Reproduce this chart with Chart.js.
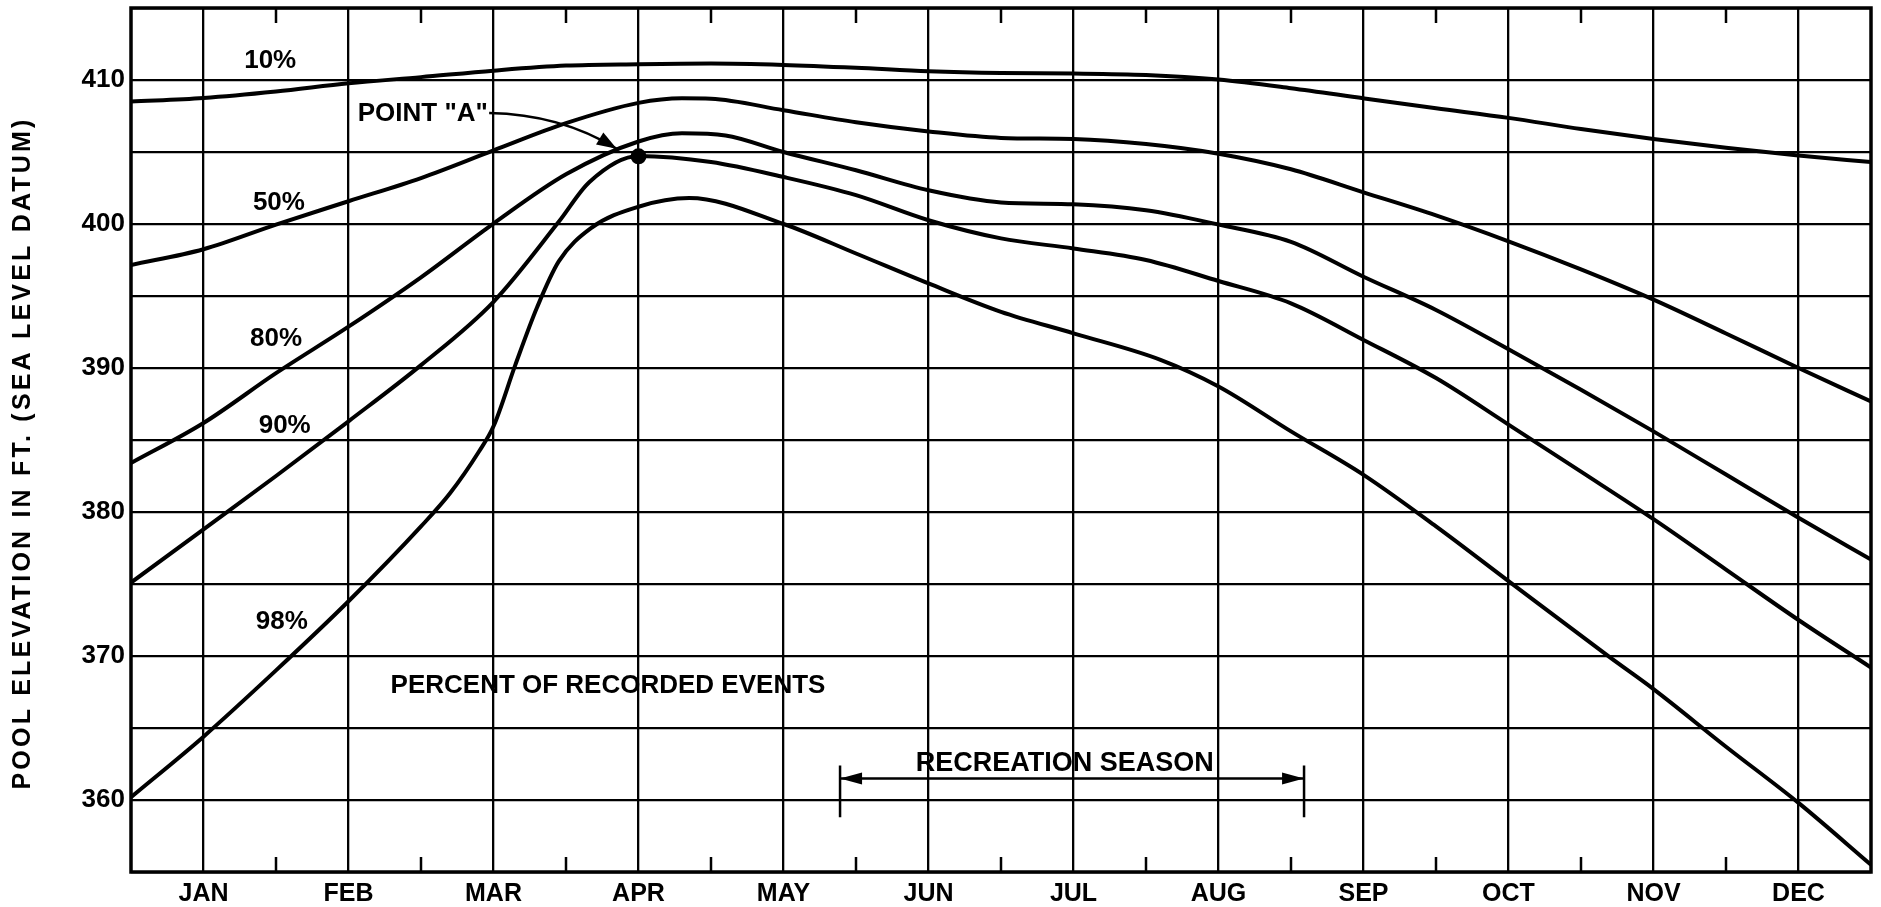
<!DOCTYPE html>
<html>
<head>
<meta charset="utf-8">
<title>Pool elevation</title>
<script src="https://cdn.jsdelivr.net/npm/chart.js@4.4.0/dist/chart.umd.min.js"></script>
<style>
  html, body { margin: 0; padding: 0; background: #fff; }
</style>
</head>
<body>
<canvas id="chart" width="1881" height="907"></canvas>
<script>
// x axis: 1 = JAN ... 12 = DEC
const months = ['JAN', 'FEB', 'MAR', 'APR', 'MAY', 'JUN', 'JUL', 'AUG', 'SEP', 'OCT', 'NOV', 'DEC'];
const yLabels = [360, 370, 380, 390, 400, 410];
const yGrid = [355, 360, 365, 370, 375, 380, 385, 390, 395, 400, 405, 410, 415];
const halfMonths = [1.5, 2.5, 3.5, 4.5, 5.5, 6.5, 7.5, 8.5, 9.5, 10.5, 11.5];
const yTitle = 'POOL ELEVATION IN FT. (SEA LEVEL DATUM)';

// curves (month position, pool elevation in ft)
const x10 = [0.5, 1, 1.5, 2, 2.5, 3, 3.5, 4, 4.5, 5, 5.5, 6, 6.5, 7, 7.5, 8, 8.5, 9, 9.5, 10, 10.5, 11, 11.5, 12, 12.5];
const y10 = [408.5, 408.75, 409.2, 409.77, 410.2, 410.65, 411.0, 411.1, 411.15, 411.05, 410.85, 410.6, 410.48, 410.45, 410.35, 410.03, 409.43, 408.73, 408.04, 407.37, 406.6, 405.91, 405.3, 404.76, 404.3];

const x50 = [0.5, 1, 1.5, 2, 2.5, 3, 3.5, 4, 4.3, 4.5, 5, 5.5, 6, 6.5, 7, 7.5, 8, 8.5, 9, 9.5, 10, 10.5, 11, 11.5, 12, 12.5];
const y50 = [397.15, 398.25, 399.96, 401.58, 403.19, 405.11, 407.0, 408.41, 408.73, 408.7, 407.9, 407.07, 406.43, 405.98, 405.9, 405.55, 404.88, 403.8, 402.2, 400.6, 398.8, 396.85, 394.75, 392.4, 390.0, 387.68];

const x80 = [0.5, 1, 1.5, 2, 2.5, 3, 3.5, 4, 4.3, 4.6, 5, 5.5, 6, 6.5, 7, 7.5, 8, 8.5, 9, 9.5, 10, 10.5, 11, 11.5, 12, 12.5];
const y80 = [383.4, 386.18, 389.64, 392.87, 396.3, 400.03, 403.45, 405.73, 406.3, 406.15, 405.0, 403.73, 402.34, 401.5, 401.37, 400.95, 399.96, 398.76, 396.34, 394.03, 391.3, 388.49, 385.6, 382.6, 379.6, 376.7];

const x90 = [0.5, 1, 1.5, 2, 2.5, 3, 3.45, 3.66, 4, 4.5, 5, 5.5, 6, 6.5, 7, 7.5, 8, 8.5, 9, 9.5, 10, 10.5, 11, 11.5, 12, 12.5];
const y90 = [375.1, 378.8, 382.5, 386.3, 390.2, 394.6, 400.15, 402.9, 404.72, 404.3, 403.26, 402.0, 400.26, 399.0, 398.3, 397.5, 396.04, 394.49, 391.95, 389.3, 386.07, 382.8, 379.5, 376.0, 372.5, 369.2];

const x98 = [0.5, 1, 1.5, 2, 2.5, 2.7, 2.9, 3, 3.15, 3.3, 3.45, 3.67, 4, 4.35, 5, 5.5, 6, 6.5, 7, 7.6, 8, 8.5, 9, 9.5, 10, 10.7, 11, 11.5, 12, 12.5];
const y98 = [360.2, 364.4, 369.0, 373.8, 379.0, 381.3, 384.2, 385.95, 390.2, 394.2, 397.4, 399.7, 401.2, 401.8, 400.0, 397.95, 395.87, 393.9, 392.41, 390.57, 388.72, 385.6, 382.58, 379.0, 375.2, 369.9, 367.7, 363.7, 359.8, 355.5];

// point "A" on the 90% curve
const pointA = [{ x: 4, y: 404.7 }];

const curveNames = ['10%', '50%', '80%', '90%', '98%'];

const FONT = '"Liberation Sans", Arial, sans-serif';

function curve(xs, ys) {
    return {
        data: xs.map((x, i) => ({ x: x, y: ys[i] })),
        borderColor: '#000',
        borderWidth: 4,
        pointRadius: 0,
        fill: false,
        cubicInterpolationMode: 'monotone'
    };
}

// frame, half month ticks, curve labels and the notes on the plot
const overlay = {
    id: 'overlay',
    afterDatasetsDraw(chart) {
        const ctx = chart.ctx;
        const a = chart.chartArea;
        const px = v => chart.scales.x.getPixelForValue(v);
        const py = v => chart.scales.y.getPixelForValue(v);
        ctx.save();
        ctx.strokeStyle = '#000';
        ctx.fillStyle = '#000';

        ctx.lineWidth = 3.5;
        ctx.strokeRect(a.left, a.top, a.right - a.left, a.bottom - a.top);

        ctx.lineWidth = 2.5;
        halfMonths.forEach(m => {
            ctx.beginPath();
            ctx.moveTo(px(m), a.bottom);
            ctx.lineTo(px(m), a.bottom - 15);
            ctx.moveTo(px(m), a.top);
            ctx.lineTo(px(m), a.top + 15);
            ctx.stroke();
        });

        ctx.font = 'bold 26px ' + FONT;
        ctx.textBaseline = 'middle';
        ctx.textAlign = 'center';
        const labelPos = [[1.46, 411.3], [1.52, 401.5], [1.5, 392.0], [1.56, 386.0], [1.54, 372.4]];
        curveNames.forEach((t, i) => ctx.fillText(t, px(labelPos[i][0]), py(labelPos[i][1])));

        ctx.textAlign = 'left';
        ctx.fillText('PERCENT OF RECORDED EVENTS', px(2.29), py(367.9));
        ctx.fillText('POINT "A"', px(2.064), py(407.65));

        // arrow from the label to point A
        const x0 = px(2.97), y0 = py(407.7);
        const cx = px(3.46), cy = py(407.62);
        const x1 = px(3.85), y1 = py(405.22);
        ctx.lineWidth = 2.5;
        ctx.beginPath();
        ctx.moveTo(x0, y0);
        ctx.quadraticCurveTo(cx, cy, x1, y1);
        ctx.stroke();
        const ang = Math.atan2(y1 - cy, x1 - cx);
        arrowHead(ctx, x1, y1, ang, 20, 7);

        // recreation season bracket
        const r0 = px(5.39), r1 = px(8.59), ry = py(361.5);
        ctx.lineWidth = 2.5;
        ctx.beginPath();
        ctx.moveTo(r0, py(362.4)); ctx.lineTo(r0, py(358.8));
        ctx.moveTo(r1, py(362.4)); ctx.lineTo(r1, py(358.8));
        ctx.moveTo(r0, ry); ctx.lineTo(r1, ry);
        ctx.stroke();
        arrowHead(ctx, r0, ry, Math.PI, 22, 6);
        arrowHead(ctx, r1, ry, 0, 22, 6);
        ctx.textAlign = 'center';
        ctx.font = 'bold 27px ' + FONT;
        ctx.fillText('RECREATION SEASON', px(6.94), py(362.55));

        // y axis title, widely spaced like the original lettering
        ctx.font = 'bold 25px ' + FONT;
        const plain = ctx.measureText(yTitle).width;
        const gap = (673 - plain) / yTitle.length;
        ctx.letterSpacing = gap.toFixed(2) + 'px';
        ctx.translate(23, 453 + 673 / 2);
        ctx.rotate(-Math.PI / 2);
        ctx.textAlign = 'left';
        ctx.fillText(yTitle, 0, 0);
        ctx.restore();
    }
};

function arrowHead(ctx, x, y, ang, len, half) {
    ctx.save();
    ctx.translate(x, y);
    ctx.rotate(ang);
    ctx.beginPath();
    ctx.moveTo(0, 0);
    ctx.lineTo(-len, -half);
    ctx.lineTo(-len, half);
    ctx.closePath();
    ctx.fill();
    ctx.restore();
}

new Chart(document.getElementById('chart'), {
    type: 'line',
    data: {
        datasets: [
            curve(x10, y10),
            curve(x50, y50),
            curve(x80, y80),
            curve(x90, y90),
            curve(x98, y98),
            {
                data: pointA,
                showLine: false,
                pointRadius: 8,
                pointBackgroundColor: '#000',
                pointBorderWidth: 0
            }
        ]
    },
    options: {
        responsive: false,
        animation: false,
        devicePixelRatio: 1,
        layout: { padding: { top: 6, right: 10, left: 0, bottom: 0 } },
        plugins: {
            legend: { display: false },
            tooltip: { enabled: false }
        },
        scales: {
            x: {
                type: 'linear',
                min: 0.5,
                max: 12.5,
                afterBuildTicks: s => { s.ticks = months.map((m, i) => ({ value: i + 1 })); },
                afterFit: s => {
                    s.height = 35;
                    s.paddingLeft = 0;
                    s.paddingRight = 0;
                },
                ticks: {
                    callback: v => months[v - 1],
                    autoSkip: false,
                    maxRotation: 0,
                    padding: 7,
                    color: '#000',
                    font: { family: FONT, size: 25, weight: 'bold' }
                },
                grid: { color: '#000', lineWidth: 2.3, drawTicks: false },
                border: { display: false }
            },
            y: {
                min: 355,
                max: 415,
                afterBuildTicks: s => { s.ticks = yGrid.map(v => ({ value: v })); },
                afterFit: s => {
                    s.width = 131;
                    s.paddingTop = 0;
                    s.paddingBottom = 0;
                },
                ticks: {
                    callback: v => yLabels.includes(v) ? String(v) : '',
                    autoSkip: false,
                    padding: 6,
                    color: '#000',
                    font: { family: FONT, size: 26, weight: 'bold' }
                },
                grid: { color: '#000', lineWidth: 2.3, drawTicks: false },
                border: { display: false }
            }
        }
    },
    plugins: [overlay]
});
</script>
</body>
</html>
